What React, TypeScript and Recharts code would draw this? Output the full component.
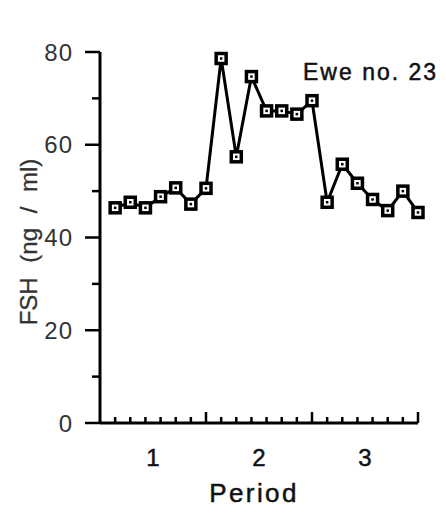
import React from 'react';
import { LineChart, Line, XAxis, YAxis, Customized } from 'recharts';

const sampleIndex = [1, 2, 3, 4, 5, 6, 7, 8, 9, 10, 11, 12, 13, 14, 15, 16, 17, 18, 19, 20, 21];
const fshValues = [46.4, 47.6, 46.4, 48.8, 50.7, 47.2, 50.6, 78.6, 57.4, 74.7, 67.3, 67.3, 66.6, 69.5, 47.6, 55.8, 51.7, 48.2, 45.8, 50.0, 45.4];
const periodLabels = ['1', '2', '3'];
const periodLabelPositions = [3.5, 10.5, 17.5];
const samplesPerPeriod = 7;
const yTicks = [0, 10, 20, 30, 40, 50, 60, 70, 80];
const yLabelStep = 20;

const data = sampleIndex.map((s, i) => ({ s, fsh: fshValues[i] }));
const xTicks = [...sampleIndex, ...periodLabelPositions].sort((a, b) => a - b);

const FONT = '"Liberation Sans", Arial, Helvetica, sans-serif';

const SquareDot = (props: any) => {
  const { cx, cy, index } = props;
  if (cx == null || cy == null) return null;
  return (
    <g key={`d${index}`}>
      <rect x={cx - 5} y={cy - 5} width={10} height={10} fill="#fff" stroke="#000" strokeWidth={3.5} />
      <rect x={cx - 1.25} y={cy - 1.25} width={2.5} height={2.5} fill="#000" />
    </g>
  );
};

const XTick = (props: any) => {
  const { x, y, payload } = props;
  const v = payload.value as number;
  if (Number.isInteger(v)) {
    const len = v % samplesPerPeriod === 0 ? 11 : 6;
    return <line x1={x} x2={x} y1={y} y2={y - len} stroke="#000" strokeWidth={2.5} />;
  }
  const idx = periodLabelPositions.indexOf(v);
  return (
    <text
      x={x}
      y={y + 43}
      textAnchor="middle"
      fontSize={24}
      fontFamily={FONT}
      fill="#111"
      stroke="#111"
      strokeWidth={0.5}
    >
      {periodLabels[idx]}
    </text>
  );
};

const YTick = (props: any) => {
  const { x, y, payload } = props;
  const v = payload.value as number;
  const major = v % yLabelStep === 0;
  const len = major ? 15 : 8;
  return (
    <g>
      <line x1={x - len} x2={x} y1={y} y2={y} stroke="#000" strokeWidth={2.5} />
      {major && (
        <text x={x - 27} y={y} dy="0.36em" textAnchor="end" fontSize={24} fontFamily={FONT} fill="#333" letterSpacing={1}>
          {v}
        </text>
      )}
    </g>
  );
};

const Annotations = () => (
  <g>
    <text x={303} y={80} fontSize={23} fontFamily={FONT} fill="#111" stroke="#111" strokeWidth={0.5} letterSpacing={2}>
      Ewe no. 23
    </text>
    <text
      x={254}
      y={502}
      textAnchor="middle"
      fontSize={26}
      fontFamily={FONT}
      fill="#111"
      stroke="#111"
      strokeWidth={0.5}
      letterSpacing={2.4}
    >
      Period
    </text>
    <text
      x={0}
      y={0}
      transform="translate(37,242) rotate(-90)"
      textAnchor="middle"
      fontSize={24}
      fontFamily={FONT}
      fill="#333"
      stroke="#333"
      strokeWidth={0.3}
      wordSpacing={8}
    >
      FSH (ng / ml)
    </text>
  </g>
);

export default function App() {
  return (
    <div style={{ position: 'absolute', left: 0, top: 0, width: 446, height: 513, background: '#fff' }}>
      <LineChart width={446} height={513} data={data} margin={{ top: 52, right: 28, left: 0, bottom: 0 }}>
        <XAxis
          dataKey="s"
          type="number"
          domain={[0, 21]}
          ticks={xTicks}
          interval={0}
          height={90}
          tickSize={0}
          tickMargin={0}
          tickLine={false}
          axisLine={{ stroke: '#000', strokeWidth: 3 }}
          tick={<XTick />}
          allowDecimals
        />
        <YAxis
          type="number"
          domain={[0, 80]}
          ticks={yTicks}
          interval={0}
          width={100}
          tickSize={0}
          tickMargin={0}
          tickLine={false}
          axisLine={{ stroke: '#000', strokeWidth: 3 }}
          tick={<YTick />}
        />
        <Line
          dataKey="fsh"
          type="linear"
          stroke="#000"
          strokeWidth={3}
          dot={<SquareDot />}
          activeDot={false}
          isAnimationActive={false}
        />
        <Customized component={Annotations} />
      </LineChart>
    </div>
  );
}
